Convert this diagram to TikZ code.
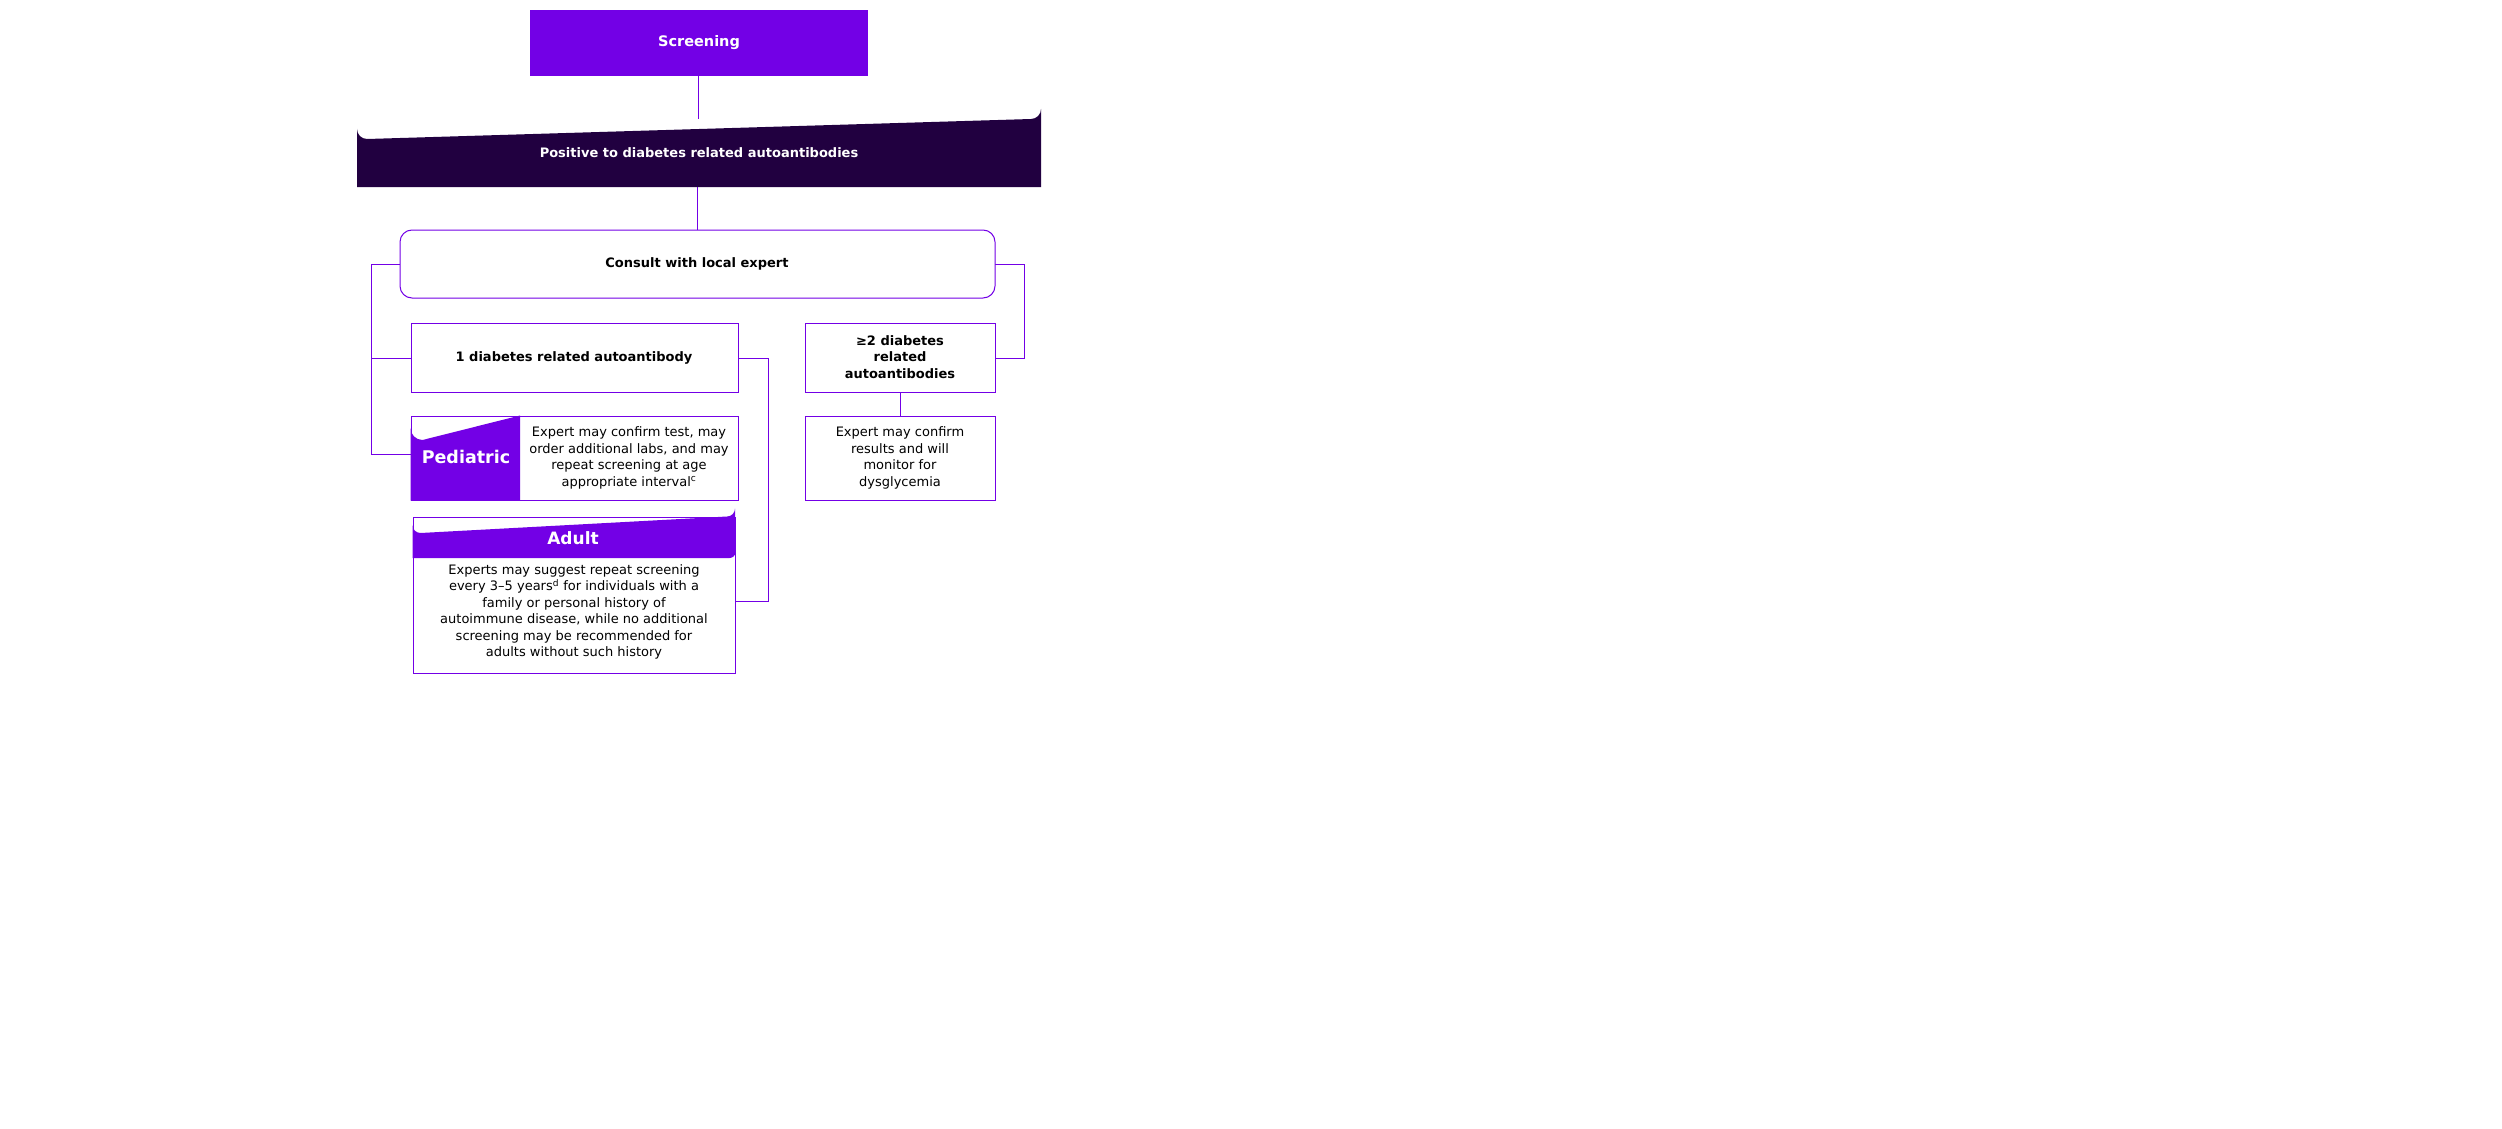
\documentclass[tikz,border=0pt]{standalone}
\usepackage{fontspec}
\setmainfont{DejaVu Sans}
\begin{document}
\definecolor{pur}{HTML}{7300E6}
\definecolor{dark}{HTML}{210040}
\begin{tikzpicture}[x=1pt,y=-1pt,
  ln/.style={draw=pur,line width=1pt},
  box/.style={draw=pur,line width=1pt,fill=white},
  txt/.style={font=\fontsize{13}{16.5}\selectfont,align=center,text=black},
  btxt/.style={font=\fontsize{13}{16.5}\selectfont\bfseries,align=center,text=black}]
\useasboundingbox (0,0) rectangle (2502,1129);
% connectors
\coordinate (cl) at (400,264); \coordinate (l1) at (371,264); \coordinate (l2) at (371,454);
\coordinate (l3) at (371,358);
\coordinate (cr) at (995,264); \coordinate (r1) at (1024,264); \coordinate (r2) at (1024,358);
\coordinate (a1) at (768,358); \coordinate (a2) at (768,601);
\draw[ln] (cl) -- (l1) -- (l2) -- (411,454);
\draw[ln] (l3) -- (411,358);
\draw[ln] (cr) -- (r1) -- (r2) -- (996,358);
\draw[ln] (738,358) -- (a1) -- (a2) -- (735,601);
\draw[ln] (698,76) -- (698,119);
\draw[ln] (697,187) -- (697,230);
\draw[ln] (900,392) -- (900,416);
% boxes
\node[fill=pur,minimum width=338pt,minimum height=66pt,inner sep=0pt,text=white,font=\fontsize{14.5}{17}\selectfont\bfseries] (scr) at (699,43) {Screening};
\fill[dark] (357,187) -- (357,129) arc[start angle=180,end angle=90,radius=10] -- (1031,119) arc[start angle=90,end angle=0,radius=10] -- (1041,187) -- cycle;
\node[text=white,font=\fontsize{13}{16.5}\selectfont\bfseries] (pos) at (699,153) {Positive to diabetes related autoantibodies};
\draw[box,rounded corners=12pt] (400,230) rectangle (995,298);
\node[btxt] (con) at (697,264) {Consult with local expert};
\draw[box] (411,323) rectangle (738,392);
\node[btxt] (one) at (574,358) {1 diabetes related autoantibody};
\draw[box] (805,323) rectangle (995,392);
\node[btxt] (two) at (900,357) {≥2 diabetes\\related\\autoantibodies};
\draw[box] (805,416) rectangle (995,500);
\node[txt] (exp) at (900,458) {Expert may confirm\\results and will\\monitor for\\dysglycemia};
% pediatric
\draw[box] (411,416) rectangle (738,500);
\fill[pur] (410.5,500.5) -- (410.5,428) arc[start angle=180,end angle=90,radius=12] -- (520,415.5) -- (520,500.5) -- cycle;
\node[text=white,font=\fontsize{17.5}{20}\selectfont\bfseries] (ped) at (466,457) {Pediatric};
\node[txt] (pedt) at (629,458) {Expert may confirm test, may\\order additional labs, and may\\repeat screening at age\\appropriate interval\textsuperscript{c}};
% adult
\draw[box] (413,517) rectangle (735,673);
\fill[pur] (412.5,558) -- (412.5,525) arc[start angle=180,end angle=90,radius=8] -- (727,516.5) arc[start angle=90,end angle=0,radius=8] -- (735.5,552) arc[start angle=0,end angle=90,radius=6] -- cycle;
\node[text=white,font=\fontsize{17}{20}\selectfont\bfseries] (adu) at (573,538) {Adult};
\node[txt] (adt) at (574,612) {Experts may suggest repeat screening\\every 3–5 years\textsuperscript{d} for individuals with a\\family or personal history of\\autoimmune disease, while no additional\\screening may be recommended for\\adults without such history};
\end{tikzpicture}
\end{document}
